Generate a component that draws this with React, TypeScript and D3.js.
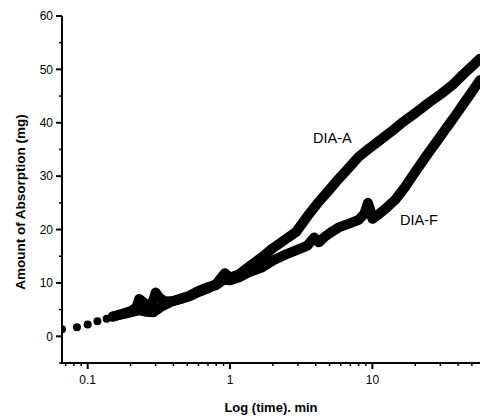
import React from 'react';
import * as d3 from 'd3';

// shared first readings (drawn as separate dots)
const earlyTime = [0.066, 0.084, 0.1, 0.117, 0.136, 0.15];
const earlyMg = [1.3, 1.7, 2.2, 2.8, 3.3, 3.7];

const diaATime = [0.15, 0.16, 0.18, 0.2, 0.23, 0.26, 0.29, 0.33, 0.38, 0.42, 0.47, 0.52, 0.6, 0.7, 0.8, 0.88, 0.92, 1.0, 1.15, 1.35, 1.67, 2.0, 2.4, 2.9, 3.5, 4.2, 4.9, 5.8, 6.8, 8.0, 9.5, 11, 13.5, 16.5, 20, 25, 30, 37, 44, 53, 57];
const diaAMg = [3.7, 3.9, 4.2, 4.5, 4.9, 4.6, 4.5, 5.6, 6.4, 6.8, 7.2, 7.5, 8.3, 9.0, 9.8, 11.2, 11.8, 11.0, 11.6, 13.0, 14.8, 16.5, 18.0, 19.5, 22.5, 25.2, 27.2, 29.5, 31.5, 33.6, 35.2, 36.5, 38.3, 40.2, 41.8, 43.8, 45.3, 47.2, 49.2, 51.2, 52];

const diaFTime = [0.15, 0.16, 0.18, 0.2, 0.22, 0.23, 0.25, 0.27, 0.29, 0.3, 0.32, 0.35, 0.4, 0.45, 0.52, 0.6, 0.7, 0.8, 0.9, 1.0, 1.15, 1.35, 1.67, 2.0, 2.4, 2.9, 3.5, 3.9, 4.2, 4.6, 5.2, 5.8, 7.0, 8.0, 8.8, 9.3, 9.7, 10.0, 11, 12.5, 14.5, 17, 20, 24.7, 28, 32, 37, 43, 50, 57];
const diaFMg = [3.7, 3.9, 4.3, 4.7, 5.4, 7.0, 6.2, 5.5, 6.8, 8.2, 7.2, 6.5, 6.6, 7.0, 7.6, 8.5, 9.2, 9.6, 10.6, 10.5, 11.0, 12.0, 12.9, 14.2, 15.2, 16.1, 17.0, 18.5, 17.6, 18.6, 19.6, 20.4, 21.2, 21.8, 23.0, 25.0, 23.5, 22.0, 22.8, 24.0, 25.6, 28.0, 30.8, 34.3, 36.3, 38.5, 40.8, 43.3, 45.8, 48];

const xMajor = [0.1, 1, 10];
const xMajorLabels = ['0.1', '1', '10'];
const yMajor = [0, 10, 20, 30, 40, 50, 60];
const yMinor = [-5, 5, 15, 25, 35, 45, 55];

const font = '"Liberation Sans", Arial, sans-serif';

export default function App() {
  const left = 62, right = 480, top = 16, bottom = 363;

  const x = d3.scaleLog().domain([0.066, 57]).range([left, right]);
  const y = d3.scaleLinear().domain([-5, 60]).range([bottom, top]);

  const line = d3.line<[number, number]>()
    .x(d => x(d[0]))
    .y(d => y(d[1]))
    .curve(d3.curveLinear);

  const a = diaATime.map((t, i) => [t, diaAMg[i]] as [number, number]);
  const f = diaFTime.map((t, i) => [t, diaFMg[i]] as [number, number]);

  const xMinor = x.ticks().filter(t => !xMajor.some(m => Math.abs(m - t) < 1e-9));

  return (
    <svg width={480} height={420} style={{position: 'absolute', left: 0, top: 0, background: '#fff'}}>
      <defs>
        <clipPath id="plot">
          <rect x={left} y={top} width={right - left} height={bottom - top} />
        </clipPath>
      </defs>

      <g clipPath="url(#plot)" fill="none" stroke="#000" strokeLinejoin="round" strokeLinecap="round">
        <path d={line(a) || ''} strokeWidth={10} />
        <path d={line(f) || ''} strokeWidth={10} />
        {earlyTime.map((t, i) => (
          <circle key={i} cx={x(t)} cy={y(earlyMg[i])} r={4} fill="#000" stroke="none" />
        ))}
      </g>

      {/* axes */}
      <g stroke="#000" strokeWidth={2}>
        <line x1={left} x2={left} y1={top} y2={bottom + 1} />
        <line x1={left - 1} x2={right} y1={bottom} y2={bottom} />
        {yMajor.map(v => <line key={v} x1={left - 6} x2={left} y1={y(v)} y2={y(v)} />)}
        {yMinor.map(v => <line key={v} x1={left - 3} x2={left} y1={y(v)} y2={y(v)} strokeWidth={1.5} />)}
        {xMajor.map(v => <line key={v} x1={x(v)} x2={x(v)} y1={bottom} y2={bottom + 6} />)}
        {xMinor.map(v => <line key={v} x1={x(v)} x2={x(v)} y1={bottom} y2={bottom + 3} strokeWidth={1.5} />)}
      </g>

      <g fontFamily={font} fontSize={12} fill="#000">
        {yMajor.map(v => (
          <text key={v} x={left - 9} y={y(v)} dy="0.35em" textAnchor="end">{v}</text>
        ))}
        {xMajor.map((v, i) => (
          <text key={v} x={x(v)} y={384} textAnchor="middle">{xMajorLabels[i]}</text>
        ))}
      </g>

      <text x={271} y={412} textAnchor="middle" fontFamily={font} fontSize={13} fontWeight="bold">Log (time). min</text>
      <text transform="translate(25,202) rotate(-90)" textAnchor="middle" fontFamily={font} fontSize={13.5} fontWeight="bold">Amount of Absorption (mg)</text>

      <text x={313} y={143} fontFamily={font} fontSize={14.5}>DIA-A</text>
      <text x={400} y={225} fontFamily={font} fontSize={14.5}>DIA-F</text>
    </svg>
  );
}
